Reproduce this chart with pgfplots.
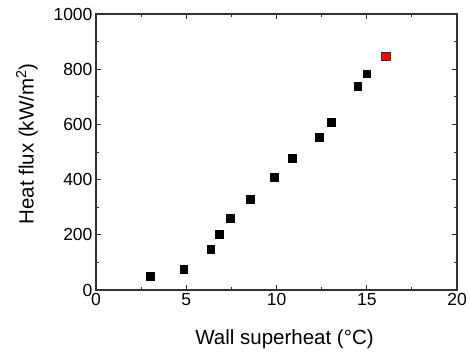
\documentclass[border=0pt]{standalone}
\usepackage{fontspec}
\setmainfont{Liberation Sans}
\usepackage{pgfplots}
\pgfplotsset{compat=1.18}
\begin{document}
\begin{tikzpicture}[x=1pt,y=1pt]
\begin{axis}[
  at={(0pt,0pt)}, anchor=south west,
  scale only axis, width=361pt, height=276pt,
  xmin=0, xmax=20, ymin=0, ymax=1000,
  xtick={0,5,10,15,20}, ytick={0,200,400,600,800,1000},
  minor x tick num=1, minor y tick num=1,
  tick align=inside, major tick length=5pt, minor tick length=3pt,
  axis line style={black!80, line width=1.2pt},
  every tick/.style={black!80, line width=0.9pt},
  tick label style={font=\fontsize{17.5}{20}\selectfont},
  /pgf/number format/assume math mode=true,
  /pgf/number format/1000 sep={},
  xlabel={Wall superheat (\textdegree C)},
  ylabel={Heat flux (kW/m\textsuperscript{2})},
  label style={font=\fontsize{20.5}{24}\selectfont},
  xlabel style={at={(axis description cs:0.5,0)}, anchor=center, yshift=-49pt, xshift=8pt},
  ylabel style={at={(axis description cs:-0.191,0.529)}, anchor=center},
  clip=false,
]
\addplot[only marks, mark=square*, mark size=3.8pt, mark options={fill=black, draw=black}]
coordinates {
(3.0,50) (4.86,75) (6.35,147) (6.83,203) (7.44,260) (8.53,330)
(9.86,409) (10.86,478) (12.35,554) (13.02,609) (14.5,739) (15.0,783)
};
\addplot[only marks, mark=square*, mark size=4.2pt, mark options={fill=red, draw=black!80, line width=0.6pt}]
coordinates {(16.05,847)};
\end{axis}
\pgfresetboundingbox
\path[use as bounding box] (-96pt,-64pt) rectangle (374pt,290pt);
\end{tikzpicture}
\end{document}
